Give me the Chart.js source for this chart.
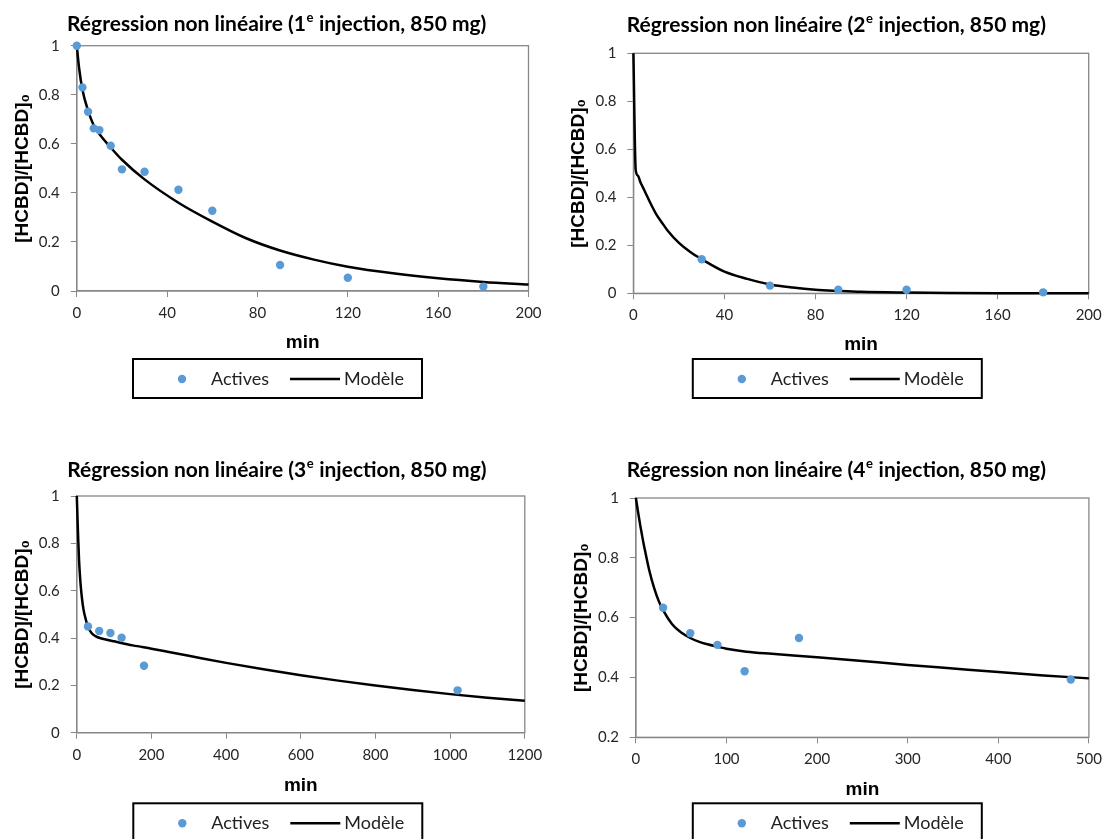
<!DOCTYPE html>
<html>
<head>
<meta charset="utf-8">
<script src="https://cdn.jsdelivr.net/npm/chart.js@4.4.1/dist/chart.umd.min.js"></script>
<style>
  body { margin: 0; background: #fff; width: 1102px; height: 839px; overflow: hidden; position: relative; }
  canvas { position: absolute; }
</style>
</head>
<body>
<canvas id="c1" width="551" height="420" style="left:0;top:0"></canvas>
<canvas id="c2" width="551" height="420" style="left:551px;top:0"></canvas>
<canvas id="c3" width="551" height="419" style="left:0;top:420px"></canvas>
<canvas id="c4" width="551" height="419" style="left:551px;top:420px"></canvas>
<script>
// 1e injection
const t1 = [0, 2.5, 5, 7.5, 10, 15, 20, 30, 45, 60, 90, 120, 180];
const actives1 = [1.0, 0.83, 0.731, 0.663, 0.656, 0.592, 0.496, 0.486, 0.413, 0.327, 0.106, 0.054, 0.018];
const tModel1 = [0, 1, 2.5, 5, 7.5, 10, 15, 20, 30, 45, 60, 75, 90, 105, 120, 140, 160, 180, 200];
const model1 = [1, 0.91, 0.82, 0.735, 0.675, 0.64, 0.585, 0.535, 0.455, 0.36, 0.283, 0.215, 0.165, 0.128, 0.099, 0.072, 0.052, 0.037, 0.026];

// 2e injection
const t2 = [30, 60, 90, 120, 180];
const actives2 = [0.142, 0.032, 0.015, 0.015, 0.004];
const tModel2 = [0, 1, 2, 3, 4, 5, 7.5, 10, 12.5, 15, 20, 25, 30, 40, 50, 60, 70, 80, 90, 100, 120, 140, 160, 200];
const model2 = [1, 0.515, 0.49, 0.465, 0.445, 0.425, 0.375, 0.33, 0.295, 0.262, 0.21, 0.172, 0.142, 0.09, 0.06, 0.037, 0.024, 0.015, 0.01, 0.006, 0.003, 0.0015, 0.0007, 0];

// 3e injection
const t3 = [30, 60, 90, 120, 180, 1020];
const actives3 = [0.449, 0.43, 0.421, 0.401, 0.283, 0.179];
const tModel3 = [0, 1, 2, 4, 6, 8, 10, 14, 18, 25, 30, 40, 50, 60, 80, 100, 150, 200, 250, 300, 400, 500, 600, 700, 800, 900, 1000, 1100, 1200];
const model3 = [1, 0.95, 0.9, 0.81, 0.73, 0.675, 0.63, 0.565, 0.52, 0.473, 0.447, 0.42, 0.408, 0.401, 0.393, 0.386, 0.369, 0.355, 0.34, 0.325, 0.295, 0.268, 0.243, 0.22, 0.199, 0.18, 0.163, 0.148, 0.135];

// 4e injection
const t4 = [30, 60, 90, 120, 180, 480];
const actives4 = [0.633, 0.548, 0.509, 0.421, 0.532, 0.393];
const tModel4 = [0, 2, 5, 8, 10, 15, 20, 25, 30, 40, 50, 60, 70, 80, 90, 100, 122, 150, 200, 250, 300, 350, 400, 450, 500];
const model4 = [1, 0.96, 0.905, 0.855, 0.825, 0.755, 0.70, 0.657, 0.625, 0.578, 0.55, 0.532, 0.519, 0.51, 0.503, 0.496, 0.486, 0.479, 0.468, 0.455, 0.442, 0.43, 0.418, 0.407, 0.397];

const seriesLabels = ['Actives', 'Modèle'];
const yTitle = '[HCBD]/[HCBD]₀';
const xTitle = 'min';

const BLUE = '#5B9BD5';
const GRAY = '#878787';
const AXIS_LH = 19 * 1.2;

const pairs = (xs, ys) => xs.map((x, i) => ({ x, y: ys[i] }));

// frame around plot, title with superscript, boxed legend
const decor = {
    id: 'decor',
    beforeDatasetsDraw(chart) {
        const a = chart.chartArea, ctx = chart.ctx;
        ctx.save();
        ctx.strokeStyle = GRAY;
        ctx.lineWidth = 1.3;
        ctx.strokeRect(a.left, a.top, a.right - a.left, a.bottom - a.top);
        ctx.restore();
    },
    afterDraw(chart, args, o) {
        const ctx = chart.ctx;
        ctx.save();
        // title
        const pre = 'Régression non linéaire (' + o.num;
        const sup = 'e';
        const post = ' injection, 850 mg)';
        const big = 'bold 21px Lato', small = 'bold 13px Lato';
        ctx.font = big;
        const w1 = ctx.measureText(pre).width, w3 = ctx.measureText(post).width;
        ctx.font = small;
        const w2 = ctx.measureText(sup).width + 1;
        let x = o.titleX - (w1 + w2 + w3) / 2;
        ctx.fillStyle = '#000';
        ctx.textBaseline = 'middle';
        ctx.font = big;
        ctx.fillText(pre, x, o.titleY);
        ctx.font = small;
        ctx.fillText(sup, x + w1 + 0.5, o.titleY - 6.5);
        ctx.font = big;
        ctx.fillText(post, x + w1 + w2, o.titleY);

        // legend
        const lx = o.legendX, ly = o.legendY, cy = ly + 20;
        ctx.strokeStyle = '#000';
        ctx.lineWidth = 2;
        ctx.strokeRect(lx, ly, 289, 39);
        const ds = chart.data.datasets;
        ctx.fillStyle = ds[0].backgroundColor;
        ctx.beginPath();
        ctx.arc(lx + 49, cy, 4.2, 0, Math.PI * 2);
        ctx.fill();
        ctx.strokeStyle = ds[1].borderColor;
        ctx.lineWidth = 2.5;
        ctx.beginPath();
        ctx.moveTo(lx + 157, cy);
        ctx.lineTo(lx + 207, cy);
        ctx.stroke();
        ctx.fillStyle = '#222';
        ctx.font = '18px Lato';
        ctx.fillText(ds[0].label, lx + 78, cy);
        ctx.fillText(ds[1].label, lx + 211, cy);
        ctx.restore();
    }
};

function makeChart(id, c) {
    const canvas = document.getElementById(id);
    const cw = canvas.width, ch = canvas.height;
    const xh = c.xTitleY - c.B + AXIS_LH / 2;
    return new Chart(canvas, {
        type: 'scatter',
        data: {
            datasets: [{
                label: seriesLabels[0],
                data: pairs(c.tx, c.ty),
                backgroundColor: BLUE,
                borderColor: BLUE,
                pointRadius: 4.2,
                pointBorderWidth: 0,
                showLine: false,
                clip: false,
                order: 0
            }, {
                label: seriesLabels[1],
                data: pairs(c.mx, c.my),
                showLine: true,
                borderColor: '#000',
                borderWidth: 2.5,
                pointRadius: 0,
                cubicInterpolationMode: 'monotone',
                clip: false,
                order: 1
            }]
        },
        options: {
            responsive: false,
            animation: false,
            layout: {
                padding: { left: 0, top: c.T, right: cw - c.R, bottom: ch - c.B - xh }
            },
            scales: {
                x: {
                    type: 'linear',
                    min: 0,
                    max: c.xMax,
                    afterFit(s) { s.height = xh; s.paddingLeft = 0; s.paddingRight = 0; },
                    border: { display: true, color: GRAY, width: 1.3 },
                    grid: { drawOnChartArea: false, drawTicks: true, tickLength: 6, color: GRAY },
                    ticks: {
                        stepSize: c.xStep,
                        padding: 7,
                        color: '#262626',
                        font: { family: 'Lato', size: 15 },
                        maxRotation: 0,
                        callback: v => String(v)
                    },
                    title: {
                        display: true,
                        text: xTitle,
                        color: '#000',
                        padding: { top: 0, bottom: 0 },
                        font: { family: 'Liberation Sans', size: 19, weight: 'bold' }
                    }
                },
                y: {
                    min: c.yMin,
                    max: 1,
                    afterFit(s) { s.width = c.L; s.paddingTop = 0; s.paddingBottom = 0; },
                    border: { display: true, color: GRAY, width: 1.3 },
                    grid: { drawOnChartArea: false, drawTicks: true, tickLength: 6, color: GRAY },
                    ticks: {
                        stepSize: 0.2,
                        padding: 11,
                        color: '#262626',
                        font: { family: 'Lato', size: 15 },
                        callback: v => String(Math.round(v * 10) / 10)
                    },
                    title: {
                        display: true,
                        text: yTitle,
                        color: '#000',
                        padding: { top: c.yTitleX - AXIS_LH / 2, bottom: 0 },
                        font: { family: 'Liberation Sans', size: 19, weight: 'bold' }
                    }
                }
            },
            plugins: {
                legend: { display: false },
                tooltip: { enabled: false },
                decor: {
                    num: c.num,
                    titleX: c.titleX,
                    titleY: c.titleY,
                    legendX: c.legendX,
                    legendY: c.legendY
                }
            }
        },
        plugins: [decor]
    });
}

makeChart('c1', {
    num: 1, tx: t1, ty: actives1, mx: tModel1, my: model1, xMax: 200, xStep: 40, yMin: 0,
    L: 76.8, T: 45.7, R: 528.5, B: 291, titleX: 276.7, titleY: 24.5, yTitleX: 23, xTitleY: 343,
    legendX: 133, legendY: 359
});
makeChart('c2', {
    num: 2, tx: t2, ty: actives2, mx: tModel2, my: model2, xMax: 200, xStep: 40, yMin: 0,
    L: 82.4, T: 53.3, R: 537.7, B: 293.3, titleX: 285.3, titleY: 25, yTitleX: 28, xTitleY: 345,
    legendX: 141.8, legendY: 359
});
makeChart('c3', {
    num: 3, tx: t3, ty: actives3, mx: tModel3, my: model3, xMax: 1200, xStep: 200, yMin: 0,
    L: 76.8, T: 76, R: 524.8, B: 312.7, titleX: 276.9, titleY: 50.5, yTitleX: 23, xTitleY: 366,
    legendX: 133.3, legendY: 383.3
});
makeChart('c4', {
    num: 4, tx: t4, ty: actives4, mx: tModel4, my: model4, xMax: 500, xStep: 100, yMin: 0.2,
    L: 84.9, T: 78, R: 537.9, B: 317.3, titleX: 285.3, titleY: 50.5, yTitleX: 30.7, xTitleY: 370,
    legendX: 141.8, legendY: 383.3
});
</script>
</body>
</html>
